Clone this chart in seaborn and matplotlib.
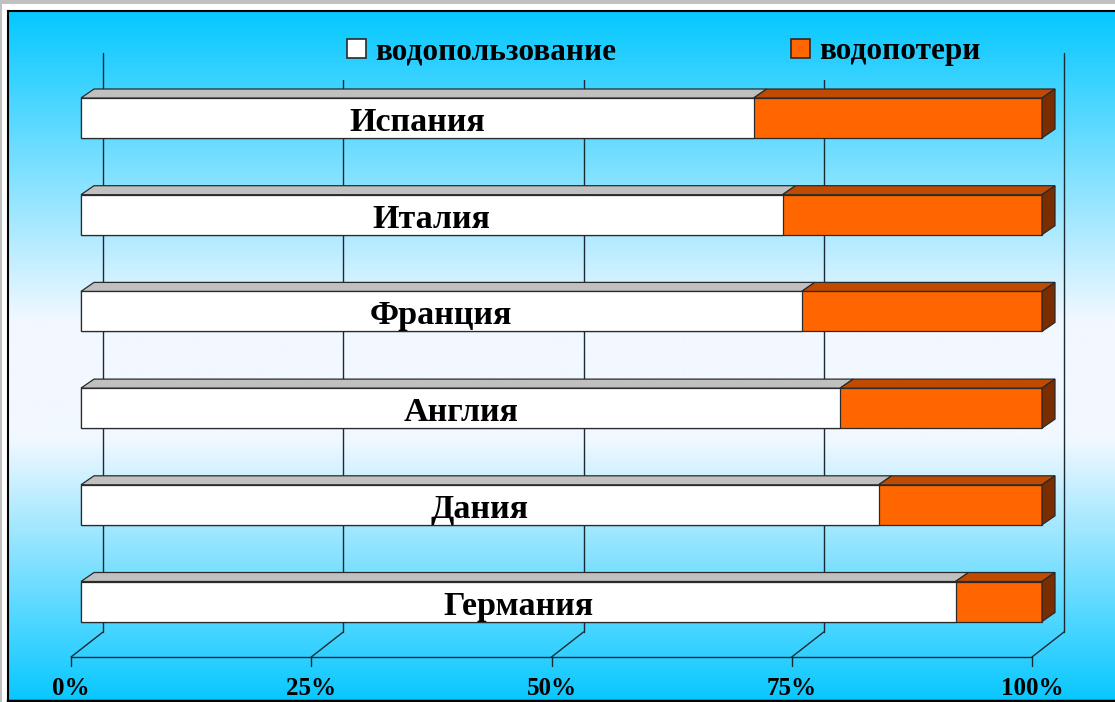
import numpy as np
import pandas as pd
import matplotlib
matplotlib.use("Agg")
import matplotlib.pyplot as plt
from matplotlib.patches import Polygon, Rectangle, Patch
from matplotlib.colors import LinearSegmentedColormap
import seaborn as sns

# ---------------- data ----------------
countries = ["Испания", "Италия", "Франция", "Англия", "Дания", "Германия"]
usage = [70, 73, 75, 79, 83, 91]          # водопользование, %
losses = [30, 27, 25, 21, 17, 9]          # водопотери, %
tick_values = [0, 25, 50, 75, 100]
tick_labels = ["0%", "25%", "50%", "75%", "100%"]
legend_labels = ["водопользование", "водопотери"]

df = pd.DataFrame({"country": countries, "usage": usage, "loss": losses})
df["total"] = df["usage"] + df["loss"]

# ---------------- style ----------------
sns.set_style("white")
plt.rcParams["font.family"] = ["Liberation Serif", "DejaVu Serif"]
plt.rcParams["font.weight"] = "bold"
plt.rcParams["text.color"] = "black"

W, H = 1115, 702
fig = plt.figure(figsize=(W / 100, H / 100), dpi=100, facecolor="white")

# outer frame strips
fig.patches.append(Rectangle((0, 1 - 4 / H), 1, 4 / H, transform=fig.transFigure,
                             facecolor="#c0c0c0", edgecolor="none", zorder=0))
fig.patches.append(Rectangle((0, 0), 2 / W, 1, transform=fig.transFigure,
                             facecolor="#c0c0c0", edgecolor="none", zorder=0))

# background gradient panel
bg = fig.add_axes([8 / W, 1 / H, 1 - 8 / W, (H - 12) / H], zorder=0)
cmap = LinearSegmentedColormap.from_list(
    "bg", [(0.0, "#05c8ff"), (0.45, "#f2f8ff"), (0.62, "#f2f8ff"), (1.0, "#08c8ff")])
grad = np.linspace(0, 1, 512).reshape(-1, 1)
bg.imshow(grad, aspect="auto", cmap=cmap, extent=[0, 1, 1, 0])
bg.set_xticks([]); bg.set_yticks([])
for s in ["left", "top", "bottom"]:
    bg.spines[s].set_color("black"); bg.spines[s].set_linewidth(1.5)
bg.spines["right"].set_visible(False)
bg.spines["bottom"].set_linewidth(2.5)

# main axes spanning the figure
ax = fig.add_axes([0, 0, 1, 1], zorder=1)
ax.patch.set_alpha(0)

x0px, x1px = 81, 1042
sx = (x1px - x0px) / 100.0
c0, step = 118.0, 96.7
bar_h = 40 / step

def px2x(px):
    return (px - x0px) / sx

def px2y(py):
    return (py - c0) / step

orange = "#ff6600"
orange_top = "#c04a00"
orange_side = "#7a2e00"
white_top = "#c0c0c0"
edge = "#2a2a2a"

sns.barplot(data=df, y="country", x="total", orient="h", color=orange, saturation=1,
            width=bar_h, edgecolor=edge, linewidth=0.9, ax=ax, zorder=3)
sns.barplot(data=df, y="country", x="usage", orient="h", color="white", saturation=1,
            width=bar_h, edgecolor=edge, linewidth=0.9, ax=ax, zorder=3)

ax.set_xlim(px2x(0), px2x(W))
ax.set_ylim(px2y(H), px2y(0))
ax.axis("off")

# ---- 3D walls / gridlines ----
back_dx = 22 / sx
front_dx = -10 / sx
grid_kw = dict(color="#1a2a33", linewidth=1.0, zorder=1)
for v in tick_values:
    top_py = 53 if v in (0, 100) else 80
    ax.plot([v + back_dx, v + back_dx], [px2y(top_py), px2y(632)], **grid_kw)
    ax.plot([v + back_dx, v + front_dx], [px2y(632), px2y(657)], **grid_kw)
    ax.plot([v + front_dx, v + front_dx], [px2y(657), px2y(666)], **grid_kw)
ax.plot([tick_values[0] + front_dx, tick_values[-1] + front_dx], [px2y(657), px2y(657)], **grid_kw)

for v, lab in zip(tick_values, tick_labels):
    ax.text(v + front_dx, px2y(689), lab, ha="center", va="center",
            fontsize=18, fontweight="bold", color="black", zorder=5)

# ---- 3D bar faces ----
dx = 13 / sx
dy = 9 / step
for i, (u, t) in enumerate(zip(df["usage"], df["total"])):
    yt = i - bar_h / 2
    yb = i + bar_h / 2
    faces = [
        ([(0, yt), (dx, yt - dy), (u + dx, yt - dy), (u, yt)], white_top),
        ([(u, yt), (u + dx, yt - dy), (t + dx, yt - dy), (t, yt)], orange_top),
        ([(t, yt), (t + dx, yt - dy), (t + dx, yb - dy), (t, yb)], orange_side),
    ]
    for pts, fc in faces:
        ax.add_patch(Polygon(pts, closed=True, facecolor=fc, edgecolor=edge,
                             linewidth=0.9, zorder=3))
    ax.text(u / 2, i + 13 / step, countries[i], ha="center", va="baseline",
            fontsize=24.5, fontweight="bold", color="black", zorder=6)

# ---- legend ----
handles = [Patch(facecolor="white", edgecolor=edge, linewidth=1.2),
           Patch(facecolor=orange, edgecolor=edge, linewidth=1.2)]
leg = fig.legend(handles, legend_labels, loc="center left",
                 bbox_to_anchor=(347 / W, 1 - 52 / H), ncol=2, frameon=False,
                 prop={"weight": "bold", "size": 22.5},
                 handlelength=0.6, handleheight=0.6, handletextpad=0.3,
                 columnspacing=5.6, borderpad=0, borderaxespad=0)
for t in leg.get_texts():
    t.set_color("black")

fig.savefig("out.png", dpi=100)
